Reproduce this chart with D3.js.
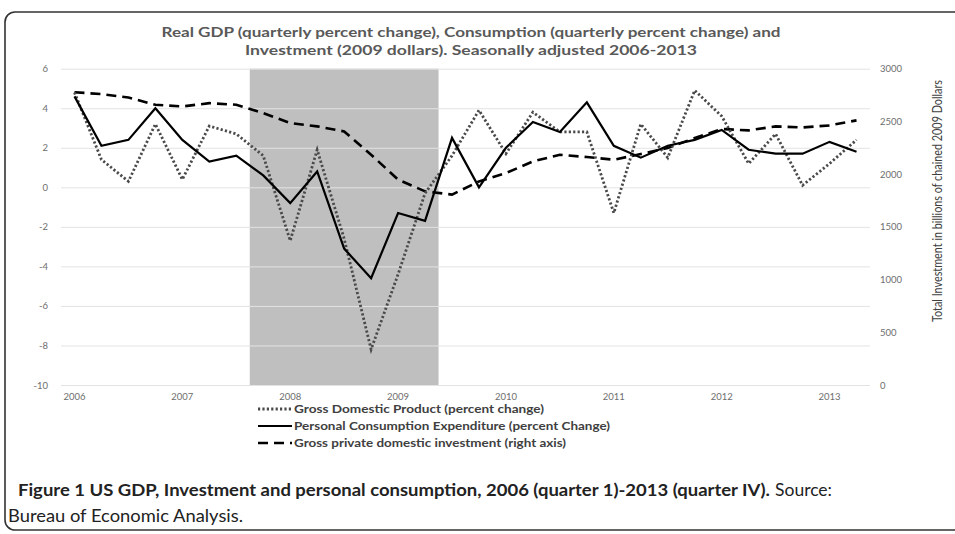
<!DOCTYPE html>
<html>
<head>
<meta charset="utf-8">
<script src="https://cdn.jsdelivr.net/npm/d3@7"></script>
<style>
	body { margin: 0; background: #fff; }
	svg { display: block; }
	text { font-family: Lato, "Open Sans", sans-serif; }
</style>
</head>
<body>
<div id="chart"></div>
<script>
// quarters 2006Q1 .. 2013Q2
var years = [2006, 2007, 2008, 2009, 2010, 2011, 2012, 2013];
var quarters = [];
years.forEach(function (y) { [1, 2, 3, 4].forEach(function (q) { quarters.push(y + "Q" + q); }); });
quarters = quarters.slice(0, 30);

var gdp = [4.8, 1.4, 0.3, 3.2, 0.4, 3.1, 2.7, 1.6, -2.7, 1.9, -2.6, -8.2, -4.4, -0.3, 1.6, 3.9,
	1.7, 3.8, 2.8, 2.8, -1.3, 3.2, 1.5, 4.9, 3.6, 1.2, 2.7, 0.1, 1.2, 2.4];
var pce = [4.6, 2.1, 2.4, 4.0, 2.4, 1.3, 1.6, 0.6, -0.8, 0.8, -3.1, -4.6, -1.3, -1.7, 2.5, 0.0,
	2.0, 3.3, 2.8, 4.3, 2.1, 1.5, 2.1, 2.4, 2.9, 1.9, 1.7, 1.7, 2.3, 1.8];
var investment = [2777, 2759, 2727, 2658, 2642, 2673, 2658, 2579, 2484, 2453, 2405, 2184, 1948, 1837, 1806, 1931,
	2010, 2121, 2184, 2162, 2137, 2190, 2248, 2342, 2428, 2415, 2453, 2443, 2462, 2510];
var recession = ["2007Q4", "2009Q2"];

var leftTicks = [6, 4, 2, 0, -2, -4, -6, -8, -10];
var rightTicks = [0, 500, 1000, 1500, 2000, 2500, 3000];
var yearTicks = quarters.filter(function (q) { return /Q1$/.test(q); });

var titleLines = ["Real GDP (quarterly percent change), Consumption (quarterly percent change) and",
	"Investment (2009 dollars). Seasonally adjusted 2006-2013"];
var legendItems = [
	{ label: "Gross Domestic Product (percent change)", dash: "2.2,2.2", width: 2.8, color: "#4a4a4a" },
	{ label: "Personal Consumption Expenditure (percent Change)", dash: null, width: 2.2, color: "#000" },
	{ label: "Gross private domestic investment (right axis)", dash: "10,6", width: 2.6, color: "#000" }
];

var W = 955, H = 534;
var pLeft = 61, pRight = 870, pTop = 68.7, pBottom = 385;

var svg = d3.select("#chart").append("svg")
	.attr("width", W)
	.attr("height", H);

// frame
svg.append("rect")
	.attr("x", 5).attr("y", 12)
	.attr("width", 965).attr("height", 518)
	.attr("rx", 10)
	.attr("fill", "none")
	.attr("stroke", "#333")
	.attr("stroke-width", 1.6);

var x = d3.scaleBand().domain(quarters).range([pLeft, pRight]);
var cx = function (q) { return x(q) + x.bandwidth() / 2; };
var yL = d3.scaleLinear().domain([-10, 6]).range([pBottom, pTop]);
var yR = d3.scaleLinear().domain([0, 3000]).range([pBottom, pTop]);

// recession shading
svg.append("rect")
	.attr("x", x(recession[0]))
	.attr("y", yL(6))
	.attr("width", x(recession[1]) + x.bandwidth() - x(recession[0]))
	.attr("height", yL(-10) - yL(6))
	.attr("fill", "#bfbfbf");

// grid + left axis
var gl = svg.append("g").attr("transform", "translate(" + pLeft + ",0)")
	.call(d3.axisLeft(yL).tickValues(leftTicks).tickSize(-(pRight - pLeft)).tickPadding(13)
		.tickFormat(function (d) { return String(d); }));
gl.select(".domain").remove();
gl.selectAll("line").attr("stroke", "#e3e3e3").attr("stroke-width", 1);
gl.selectAll("text").attr("fill", "#6e6e6e").attr("font-size", 9.5);

// right axis
var gr = svg.append("g").attr("transform", "translate(" + pRight + ",0)")
	.call(d3.axisRight(yR).tickValues(rightTicks).tickSize(0).tickPadding(10)
		.tickFormat(function (d) { return String(d); }));
gr.select(".domain").remove();
gr.selectAll("text").attr("fill", "#6e6e6e").attr("font-size", 9.5);

// x axis
var gx = svg.append("g").attr("transform", "translate(0," + pBottom + ")")
	.call(d3.axisBottom(x).tickValues(yearTicks).tickSize(0).tickPadding(8)
		.tickFormat(function (d) { return d.slice(0, 4); }));
gx.select(".domain").remove();
gx.selectAll("text").attr("fill", "#6e6e6e").attr("font-size", 9.5);

// lines
var lineL = d3.line().x(function (d, i) { return cx(quarters[i]); }).y(function (d) { return yL(d); });
var lineR = d3.line().x(function (d, i) { return cx(quarters[i]); }).y(function (d) { return yR(d); });

svg.append("path").datum(investment).attr("d", lineR)
	.attr("fill", "none").attr("stroke", "#000").attr("stroke-width", 2.6)
	.attr("stroke-dasharray", "10,6");
svg.append("path").datum(gdp).attr("d", lineL)
	.attr("fill", "none").attr("stroke", "#4a4a4a").attr("stroke-width", 2.8)
	.attr("stroke-dasharray", "2.2,2.2");
svg.append("path").datum(pce).attr("d", lineL)
	.attr("fill", "none").attr("stroke", "#000").attr("stroke-width", 2.2);

// title
svg.selectAll(".title").data(titleLines).enter().append("text")
	.attr("class", "title")
	.attr("x", 471).attr("y", function (d, i) { return 37 + i * 18; })
	.attr("text-anchor", "middle")
	.attr("font-size", 13).attr("font-weight", "bold").attr("fill", "#595959")
	.attr("textLength", function (d, i) { return i == 0 ? 619 : 452; })
	.attr("lengthAdjust", "spacingAndGlyphs")
	.text(function (d) { return d; });

// right axis title
svg.append("text")
	.attr("transform", "translate(942,201) rotate(-90)")
	.attr("text-anchor", "middle")
	.attr("font-size", 13).attr("fill", "#404040")
	.attr("textLength", 242).attr("lengthAdjust", "spacingAndGlyphs")
	.text("Total Investment in billions of chained 2009 Dollars");

// legend
var lg = svg.selectAll(".legend").data(legendItems).enter().append("g")
	.attr("class", "legend")
	.attr("transform", function (d, i) { return "translate(258," + (409 + i * 17) + ")"; });
lg.append("line")
	.attr("x1", 0).attr("x2", 34).attr("y1", 0).attr("y2", 0)
	.attr("stroke", function (d) { return d.color; })
	.attr("stroke-width", function (d) { return d.width; })
	.attr("stroke-dasharray", function (d) { return d.dash; });
lg.append("text")
	.attr("x", 36).attr("y", 4)
	.attr("font-size", 11.5).attr("font-weight", "bold").attr("fill", "#404040")
	.attr("textLength", function (d, i) { return [250, 316, 272][i]; })
	.attr("lengthAdjust", "spacingAndGlyphs")
	.text(function (d) { return d.label; });

// caption
var cap = svg.append("text").attr("x", 18).attr("y", 496).attr("font-size", 17.5).attr("fill", "#222");
cap.append("tspan").attr("font-weight", "bold")
	.attr("textLength", 752).attr("lengthAdjust", "spacingAndGlyphs")
	.text("Figure 1 US GDP, Investment and personal consumption, 2006 (quarter 1)-2013 (quarter IV).");
cap.append("tspan").attr("dx", 5)
	.attr("textLength", 57).attr("lengthAdjust", "spacingAndGlyphs")
	.text("Source:");
svg.append("text").attr("x", 8).attr("y", 522).attr("font-size", 17.5).attr("fill", "#222")
	.attr("textLength", 235).attr("lengthAdjust", "spacingAndGlyphs")
	.text("Bureau of Economic Analysis.");
</script>
</body>
</html>
